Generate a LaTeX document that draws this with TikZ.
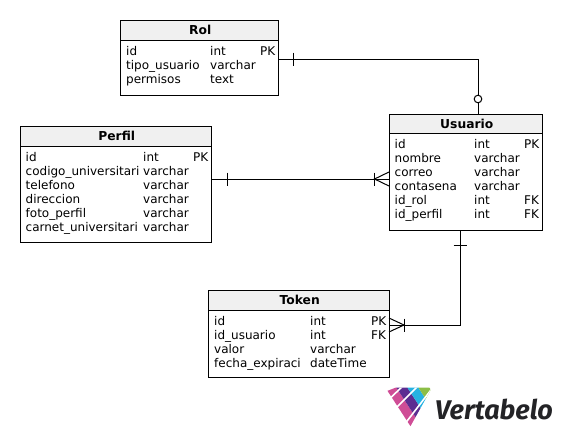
\documentclass[tikz,border=0pt]{standalone}
\usepackage{fontspec}
\setmainfont{DejaVu Sans}
\newfontfamily\logoFont{Fira Sans}
\definecolor{headerColor}{RGB}{240,240,240}
\definecolor{logoPink}{RGB}{207,77,150}
\definecolor{logoPurple}{RGB}{92,45,145}
\definecolor{logoBlue}{RGB}{38,178,226}
\definecolor{logoGreen}{RGB}{140,190,70}
\definecolor{logoDark}{RGB}{35,35,38}
\tikzstyle{tableBox} = [draw=black, line width=1pt, fill=white, anchor=north west, inner sep=0pt, outer sep=0pt]
\tikzstyle{tableHead} = [draw=black, line width=1pt, fill=headerColor, anchor=north west, inner sep=0pt, outer sep=0pt, font=\fontsize{12.3}{14}\selectfont\bfseries]
\tikzstyle{cellText} = [anchor=base west, inner sep=0pt, font=\fontsize{12}{14}\selectfont]
\tikzstyle{linkLine} = [draw=black, line width=1pt]
\tikzstyle{logoGap} = [draw=white, line width=1.6pt]
\newcommand{\dbTable}[9]{
  % name, title, x, y, width, height, type column, key column, rows
  \node [tableBox, minimum width=#5pt, minimum height=#6pt] (#1) at (#3,#4) {};
  \node [tableHead, minimum width=#5pt, minimum height=19.5pt, text depth=0pt, xshift=0pt] (#1Head) at (#3,#4) {\hspace{2pt}#2};
  \foreach \colName/\colType/\colKey [count=\rowNum] in {#9} {
    \node [cellText] (#1Name\rowNum) at (#3 + 5.5, #4 + 20.5 + 14 * \rowNum) {\colName};
    \node [cellText] (#1Type\rowNum) at (#7, #4 + 20.5 + 14 * \rowNum) {\colType};
    \node [cellText] (#1Key\rowNum) at (#8, #4 + 20.5 + 14 * \rowNum) {\colKey};
  }
}
\newcommand{\oneMarkV}[2]{\draw [linkLine] (#1, #2 - 6.5) -- (#1, #2 + 6.5);}
\newcommand{\oneMarkH}[2]{\draw [linkLine] (#1 - 6.5, #2) -- (#1 + 6.5, #2);}
\newcommand{\manyMark}[3]{\draw [linkLine] (#2, #3 - 7) -- (#1, #3) -- (#2, #3 + 7);}
\newcommand{\logoColumn}[2]{\fill [#2] (#1, 387) -- (#1 + 11, 387) -- (#1 + 11 + 26, 427) -- (#1 + 26, 427) -- cycle;}
\begin{document}
\begin{tikzpicture}[x=1pt, y=-1pt]
  \useasboundingbox (0,0) rectangle (562,437);

  \dbTable{rol}{Rol}{120.5}{20.5}{157.5}{75}{210}{260}{
    id/int/PK, tipo\_usuario/varchar/, permisos/text/}
  \dbTable{perfil}{Perfil}{20}{126.5}{191.5}{115.5}{143}{193}{
    id/int/PK, codigo\_universitari/varchar/, telefono/varchar/,
    direccion/varchar/, foto\_perfil/varchar/, carnet\_universitari/varchar/}
  \dbTable{usuario}{Usuario}{389}{114}{153.5}{116.5}{474}{524}{
    id/int/PK, nombre/varchar/, correo/varchar/, contasena/varchar/,
    id\_rol/int/FK, id\_perfil/int/FK}
  \dbTable{token}{Token}{208.5}{290.5}{180.5}{86.5}{310}{371}{
    id/int/PK, id\_usuario/int/FK, valor/varchar/, fecha\_expiraci/dateTime/}

  % link ends on the table borders
  \coordinate (rolOut) at (278,59);
  \coordinate (usuarioTop) at (478,114);
  \coordinate (perfilOut) at (211,179);
  \coordinate (usuarioLeft) at (389,179);
  \coordinate (usuarioBottom) at (460,231);
  \coordinate (tokenRight) at (389,325);

  \draw [linkLine] (rolOut) -| (usuarioTop);
  \draw [linkLine] (perfilOut) -- (usuarioLeft);
  \draw [linkLine] (usuarioBottom) |- (tokenRight);

  \oneMarkV{293}{59}
  \oneMarkV{227}{179}
  \oneMarkV{374.5}{179}
  \manyMark{374.5}{389}{179}
  \oneMarkH{460}{245}
  \oneMarkV{404}{325}
  \manyMark{404}{389}{325}
  \filldraw [linkLine, fill=white] (478,99) circle (3.8);

  % logo
  \begin{scope}
    \clip (387,391) -- (396,387.5) -- (432,387.5) -- (410,427) -- cycle;
    \logoColumn{385}{logoPink}
    \logoColumn{396}{logoPurple}
    \logoColumn{407}{logoBlue}
    \logoColumn{418}{logoGreen}
    \draw [logoGap] (404,385) -- (384,404);
    \draw [logoGap] (419,385) -- (392,412);
    \draw [logoGap] (434,386) -- (404,425);
  \end{scope}
  \node [anchor=base west, inner sep=0pt, text=logoDark, font=\logoFont\bfseries\itshape\fontsize{27}{27}\selectfont] (logoText) at (435,419) {Vertabelo};
\end{tikzpicture}
\end{document}
